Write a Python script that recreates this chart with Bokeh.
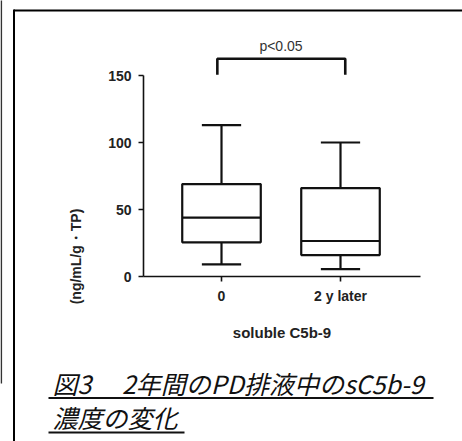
from bokeh.plotting import figure
from bokeh.models import Range1d, FixedTicker, LinearAxis, ColumnDataSource
from bokeh.core.properties import value
from bokeh.embed import file_html
from bokeh.resources import INLINE
import math

# ---- data ----
categories = ["0", "2 y later"]
whisker_low = [9, 5.5]
q1 = [25.5, 16]
median = [44, 26.5]
q3 = [69, 66]
whisker_high = [113, 100]
y_ticks = [0, 50, 100, 150]
p_text = "p<0.05"
y_label = "(ng/mL/g・TP)"
x_label = "soluble C5b-9"
caption_1 = "図3　 2年間のPD排液中のsC5b-9"
caption_2 = "濃度の変化"

pos = [i + 1 for i in range(len(categories))]
box_w = 0.66
cap_w = 0.33

# layout constants (pixels); the plotting frame fills the whole canvas
W, H = 462, 441
AX_L, AX_R, AX_B = 143, 420, 276     # axis positions in page pixels
X0, XPX = 0.3445, 119.0              # x value at AX_L and px per unit
YPX = 1.34                           # px per y unit

def px2x(px):
    return X0 + (px - AX_L) / XPX

def py2y(py):
    return (AX_B - py) / YPX

p = figure(width=W, height=H, output_backend="svg", toolbar_location=None,
           x_range=Range1d(px2x(0), px2x(W)), y_range=Range1d(py2y(H), py2y(0)),
           x_axis_location=None, y_axis_location=None, min_border=0)
p.xgrid.visible = False
p.ygrid.visible = False
p.outline_line_color = None
p.background_fill_color = "white"
p.border_fill_color = "white"

blk = "#111111"
src = ColumnDataSource(dict(
    x=pos,
    left=[x - box_w / 2 for x in pos], right=[x + box_w / 2 for x in pos],
    cl=[x - cap_w / 2 for x in pos], cr=[x + cap_w / 2 for x in pos],
    lo=whisker_low, q1=q1, med=median, q3=q3, hi=whisker_high))

# whiskers
for a in (("x", "q3", "x", "hi"), ("x", "q1", "x", "lo"),
          ("cl", "hi", "cr", "hi"), ("cl", "lo", "cr", "lo")):
    p.segment(x0=a[0], y0=a[1], x1=a[2], y1=a[3], source=src, line_color=blk, line_width=2.2)
# boxes
p.quad(left="left", right="right", bottom="q1", top="q3", source=src,
       fill_color="white", line_color=blk, line_width=2.2)
p.segment(x0="left", y0="med", x1="right", y1="med", source=src, line_color=blk, line_width=2.2)

# significance bracket
bx0, bx1 = pos[0] - 0.035, pos[1] + 0.04
p.line(x=[bx0, bx0, bx1, bx1], y=[150.5, 162.5, 162.5, 150.5], line_color=blk, line_width=2.6)
p.text(x=[(pos[0] + pos[1]) / 2], y=[172], text=[p_text], text_align="center",
       text_baseline="middle", text_font_size="14px", text_color="#333333",
       text_font=value("Liberation Sans"))

# axes (fixed inside the full-canvas frame)
def style_axis(ax):
    ax.minor_tick_line_color = None
    ax.major_tick_out = 5
    ax.major_tick_in = 0
    ax.axis_line_width = 1.6
    ax.major_tick_line_width = 1.6
    ax.axis_line_color = blk
    ax.major_tick_line_color = blk
    ax.major_label_text_font = "Liberation Sans"
    ax.major_label_text_font_style = "bold"
    ax.major_label_text_font_size = "14px"
    ax.major_label_text_color = "#222222"

yax = LinearAxis(ticker=FixedTicker(ticks=y_ticks), bounds=(0, 150),
                 fixed_location=px2x(AX_L))
style_axis(yax)
yax.major_label_standoff = 7
p.add_layout(yax, "left")

xax = LinearAxis(ticker=FixedTicker(ticks=pos), bounds=(px2x(AX_L), px2x(AX_R)),
                 fixed_location=0)
style_axis(xax)
xax.major_label_overrides = {x: c for x, c in zip(pos, categories)}
xax.major_label_standoff = 6
xax.axis_label = x_label
xax.axis_label_text_font = "Liberation Sans"
xax.axis_label_text_font_style = "bold"
xax.axis_label_text_font_size = "15px"
xax.axis_label_text_color = "#222222"
xax.axis_label_standoff = 17
p.add_layout(xax, "below")

# y axis title (off-centre as in the original)
p.text(x=[px2x(75)], y=[py2y(256)], text=[y_label], angle=math.pi / 2,
       text_align="center", text_baseline="middle", text_font=value("Liberation Sans"),
       text_font_style="bold", text_font_size="14px", text_color="#222222")

# caption (italic, underlined)
p.text(x=[px2x(52), px2x(52)], y=[py2y(382), py2y(416)], text=[caption_1, caption_2],
       text_align="left", text_baseline="alphabetic", text_font=value("Noto Sans CJK JP"),
       text_font_style="italic", text_font_size="25px", text_color="#111111")
p.segment(x0=[px2x(48), px2x(48)], x1=[px2x(433), px2x(184)],
          y0=[py2y(397.5), py2y(432)], y1=[py2y(397.5), py2y(432)],
          line_color="#111111", line_width=2)

# page frame lines
p.segment(x0=[px2x(13.5), px2x(13.5), px2x(0.8)],
          x1=[px2x(13.5), px2x(W + 2), px2x(0.8)],
          y0=[py2y(9), py2y(10), py2y(-2)],
          y1=[py2y(H + 2), py2y(10), py2y(383)],
          line_color=["#000000", "#000000", "#333333"], line_width=[2, 2, 1.6])

open("out.html", "w").write(file_html(p, INLINE))
